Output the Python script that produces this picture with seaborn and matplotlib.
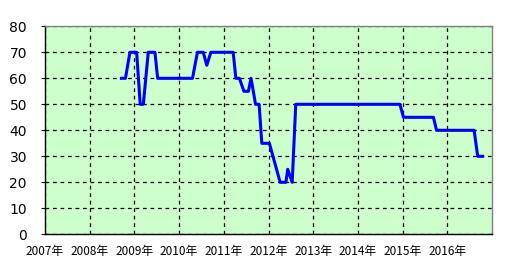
import matplotlib
matplotlib.use("Agg")
import matplotlib.pyplot as plt
import seaborn as sns
import pandas as pd

# Data: decimal-year positions and values
dates = [2008.71, 2008.80, 2008.90, 2009.05, 2009.13, 2009.20, 2009.31, 2009.46,
         2009.52, 2010.30, 2010.41, 2010.54, 2010.62, 2010.71, 2011.21, 2011.27,
         2011.35, 2011.45, 2011.55, 2011.61, 2011.71, 2011.79, 2011.85, 2012.02,
         2012.26, 2012.39, 2012.43, 2012.53, 2012.61, 2014.94, 2015.02, 2015.69,
         2015.76, 2016.60, 2016.68, 2016.79]
values = [60, 60, 70, 70, 50, 50, 70, 70,
          60, 60, 70, 70, 65, 70, 70, 60,
          60, 55, 55, 60, 50, 50, 35, 35,
          20, 20, 25, 20, 50, 50, 45, 45,
          40, 40, 30, 30]
years = [2007, 2008, 2009, 2010, 2011, 2012, 2013, 2014, 2015, 2016]
year_labels = [f"{y}年" for y in years]
y_ticks = [0, 10, 20, 30, 40, 50, 60, 70, 80]

df = pd.DataFrame({"date": dates, "value": values})

plt.rcParams['font.family'] = ['Noto Sans CJK JP', 'DejaVu Sans']

fig = plt.figure(figsize=(5.06, 2.75), dpi=100)
ax = fig.add_axes([45/506, 1 - 234.3/275, 447/506, (234.3 - 26.3)/275])
ax.set_facecolor("#CCFFCC")

sns.lineplot(data=df, x="date", y="value", ax=ax, color="#0000FF",
             linewidth=2.2, estimator=None, sort=False)

ax.set_xlim(2007, 2017)
ax.set_ylim(0, 80)
ax.set_xticks(years)
ax.set_xticklabels(year_labels, fontsize=8.5)
ax.set_yticks(y_ticks)
ax.set_yticklabels([str(v) for v in y_ticks], fontsize=10, family=['DejaVu Sans'])
ax.set_xlabel("")
ax.set_ylabel("")

ax.set_axisbelow(True)
ax.grid(True, color="black", linestyle=(0, (3, 3)), linewidth=0.9)

ax.tick_params(axis="x", length=0, pad=8)
ax.tick_params(axis="y", length=3, direction="out", pad=10, colors="black")

for s in ["top", "right"]:
    ax.spines[s].set_color("#808080")
    ax.spines[s].set_linewidth(1)
for s in ["left", "bottom"]:
    ax.spines[s].set_color("black")
    ax.spines[s].set_linewidth(1)

fig.savefig("out.png", dpi=100)
